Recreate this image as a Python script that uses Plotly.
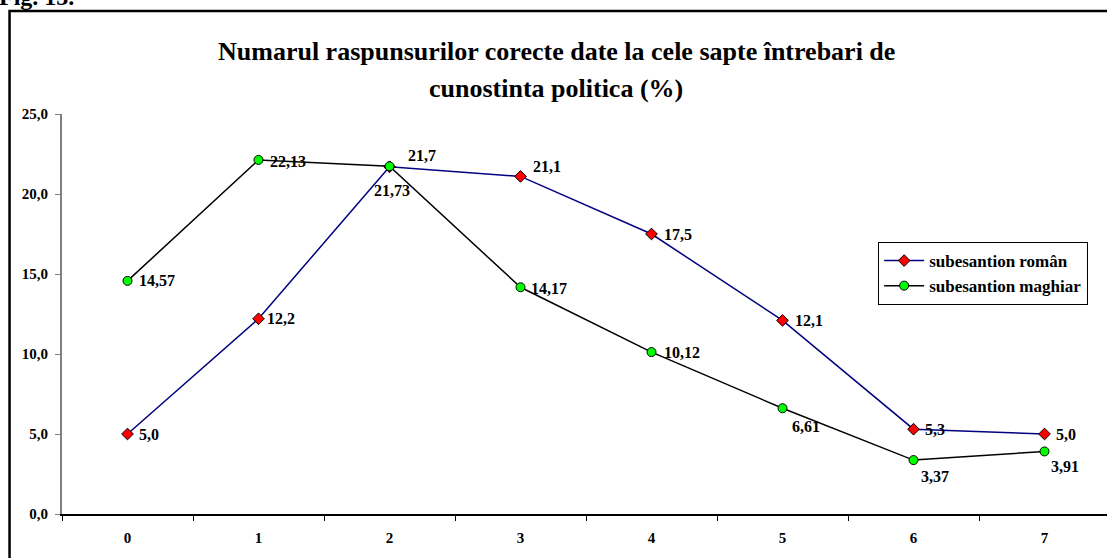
import plotly.graph_objects as go

categories = ["0", "1", "2", "3", "4", "5", "6", "7"]
roman = [5.0, 12.2, 21.7, 21.1, 17.5, 12.1, 5.3, 5.0]
roman_labels = ["5,0", "12,2", "21,7", "21,1", "17,5", "12,1", "5,3", "5,0"]
maghiar = [14.57, 22.13, 21.73, 14.17, 10.12, 6.61, 3.37, 3.91]
maghiar_labels = ["14,57", "22,13", "21,73", "14,17", "10,12", "6,61", "3,37", "3,91"]
y_ticks = [0, 5, 10, 15, 20, 25]
y_tick_text = ["0,0", "5,0", "10,0", "15,0", "20,0", "25,0"]

# label offsets (pixels): (xanchor, xshift, yshift)
roman_off = [("left", 9, 0), ("left", 6, 0), ("left", 16, 11), ("left", 10, 10),
             ("left", 10, 0), ("left", 10, 0), ("left", 9, 0), ("left", 9, 0)]
maghiar_off = [("left", 9, 0), ("left", 9, -2), ("center", 2, -24), ("left", 8, -1),
               ("left", 10, 0), ("left", 7, -18), ("left", 5, -16), ("left", 4, -15)]

FONT = "Liberation Serif"
LBL = dict(family=FONT, size=16, color="black", weight="bold")

fig = go.Figure()
fig.add_trace(go.Scatter(
    x=categories, y=roman, mode="lines+markers", name="subesantion român",
    line=dict(color="#000080", width=1.5),
    marker=dict(symbol="diamond", size=9, color="#ff0000", line=dict(color="black", width=1)),
))
fig.add_trace(go.Scatter(
    x=categories, y=maghiar, mode="lines+markers", name="subesantion maghiar",
    line=dict(color="black", width=1.5),
    marker=dict(symbol="circle", size=9, color="#00ff00", line=dict(color="black", width=1)),
))

annotations = []
for c, v, t, (xa, xs, ys) in zip(categories, roman, roman_labels, roman_off):
    annotations.append(dict(x=c, y=v, xref="x", yref="y", text=t, showarrow=False,
                            xanchor=xa, yanchor="middle", xshift=xs, yshift=ys, font=LBL))
for c, v, t, (xa, xs, ys) in zip(categories, maghiar, maghiar_labels, maghiar_off):
    annotations.append(dict(x=c, y=v, xref="x", yref="y", text=t, showarrow=False,
                            xanchor=xa, yanchor="middle", xshift=xs, yshift=ys, font=LBL))

annotations.append(dict(x=0.4732, y=1.156, xref="paper", yref="paper",
                        text="Numarul raspunsurilor corecte date la cele sapte întrebari de",
                        showarrow=False, xanchor="center", yanchor="middle",
                        font=dict(family=FONT, size=26, color="black", weight="bold")))
annotations.append(dict(x=0.4732, y=1.063, xref="paper", yref="paper",
                        text="cunostinta politica (%)",
                        showarrow=False, xanchor="center", yanchor="middle",
                        font=dict(family=FONT, size=26, color="black", weight="bold")))
annotations.append(dict(x=-0.062, y=1.292, xref="paper", yref="paper",
                        text="Fig. 13.", showarrow=False, xanchor="left", yanchor="middle",
                        font=dict(family=FONT, size=24, color="black", weight="bold")))

fig.update_layout(
    width=1107, height=558,
    margin=dict(l=62, r=0, t=114, b=44, autoexpand=False),
    paper_bgcolor="white", plot_bgcolor="white",
    showlegend=True,
    legend=dict(x=0.781, y=0.68, xanchor="left", yanchor="top",
                bgcolor="white", bordercolor="black", borderwidth=1,
                font=dict(family=FONT, size=17, color="black", weight="bold"),
                tracegroupgap=0, itemwidth=40),
    annotations=annotations,
    shapes=[dict(type="rect", xref="paper", yref="paper",
                 x0=-0.0502, x1=1.01, y0=-0.13, y1=1.2575,
                 line=dict(color="black", width=2.5), fillcolor="rgba(0,0,0,0)", layer="below")],
)
fig.update_xaxes(
    type="category", range=[-0.5, 7.477], tickson="boundaries",
    showline=True, linecolor="black", linewidth=1.5,
    ticks="outside", ticklen=5, tickcolor="black", tickwidth=1,
    showgrid=False, zeroline=False,
    tickfont=dict(family=FONT, size=15, color="black", weight="bold"),
    ticklabelstandoff=9,
)
fig.update_yaxes(
    range=[0, 25], tickvals=y_ticks, ticktext=y_tick_text,
    showline=True, linecolor="#808080", linewidth=2,
    ticks="outside", ticklen=5, tickcolor="#808080", tickwidth=1,
    showgrid=False, zeroline=False,
    tickfont=dict(family=FONT, size=15, color="black", weight="bold"),
    ticklabelstandoff=4,
)

fig.write_html("out.html", config={"displayModeBar": False},
               post_script="document.body.style.margin='0';")
